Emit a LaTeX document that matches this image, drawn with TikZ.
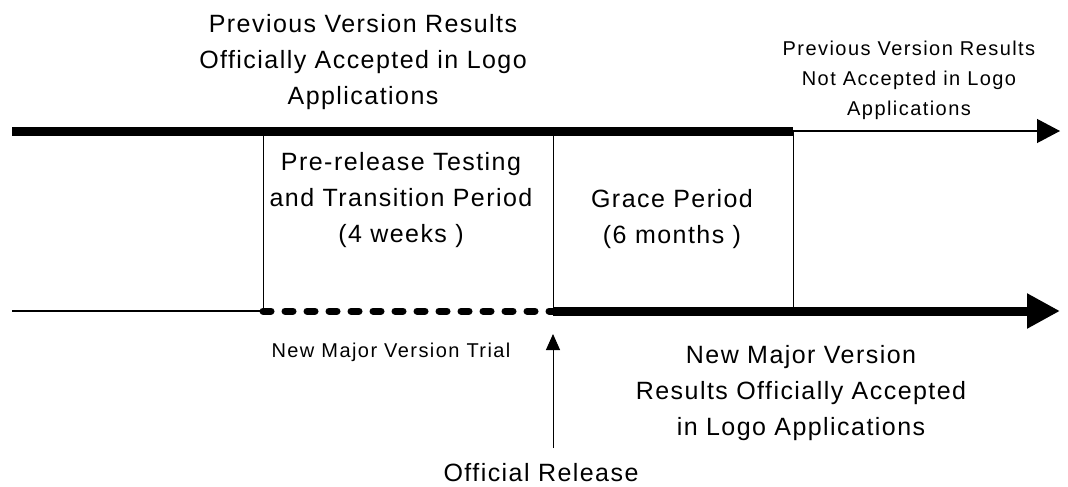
\documentclass[tikz,border=0pt]{standalone}
\usepackage{fontspec}
\setmainfont{Liberation Sans}
\usetikzlibrary{arrows.meta}

\tikzset{
  bigtext/.style={font=\fontsize{25}{36}\selectfont\addfontfeature{LetterSpace=5.8}, align=center, inner sep=0pt, anchor=base},
  smalltext/.style={font=\fontsize{20}{30}\selectfont\addfontfeature{LetterSpace=7.2}, align=center, inner sep=0pt, anchor=base},
  heavyline/.style={line width=9pt},
  hairline/.style={line width=1.2pt},
  trialline/.style={line width=7pt, line cap=round, dash pattern=on 8pt off 14pt},
}

\begin{document}
\begin{tikzpicture}[x=1pt,y=1pt,yscale=-1,xscale=1]
    \useasboundingbox (0,0) rectangle (1068,487);

    % Time line points
    \coordinate (oldStart) at (12,131);
    \coordinate (trialTop) at (263,131);
    \coordinate (releaseTop) at (553,131);
    \coordinate (graceEnd) at (793,131);
    \coordinate (oldEnd) at (1060,131);
    \coordinate (newStart) at (12,311);
    \coordinate (trialStart) at (263,311);
    \coordinate (release) at (553,311);
    \coordinate (graceBottom) at (793,311);
    \coordinate (newEnd) at (1060,311);
    \coordinate (releaseFoot) at (553,448);
    \coordinate (releaseTip) at (553,334);

    %Straight Lines: old version accepted
    \draw [heavyline]  (oldStart) -- (graceEnd) ;
    %Straight Lines: old version not accepted
    \draw [hairline, -{Triangle[length=23pt,width=24pt]}]  (graceEnd) -- (oldEnd) ;
    %Straight Lines: before trial
    \draw [hairline]  (newStart) -- (trialStart) ;
    %Straight Lines: trial
    \draw [trialline]  (trialStart) -- (release) ;
    %Straight Lines: new version accepted
    \draw [heavyline, -{Triangle[length=33pt,width=33pt]}]  (release) -- (newEnd) ;
    %Straight Lines: dividers
    \draw [line width=1pt]  (trialTop) -- (trialStart) ;
    \draw [line width=1pt]  (releaseTop) -- (release) ;
    \draw [line width=1pt]  (graceEnd) -- (graceBottom) ;
    %Straight Lines: official release
    \draw [line width=1pt, -{Triangle[length=16pt,width=14pt]}]  (releaseFoot) -- (releaseTip) ;

    % Text Node (base = last line)
    \node [bigtext] (oldAccepted) at (363,104) {Previous Version Results\\Officially Accepted in Logo\\Applications};
    % Text Node
    \node [smalltext] (oldRejected) at (909,115) {Previous Version Results\\Not Accepted in Logo\\Applications};
    % Text Node
    \node [bigtext] (transition) at (401,242) {Pre-release Testing\\and Transition Period\\(4 weeks )};
    % Text Node
    \node [bigtext] (grace) at (672,243) {Grace Period\\(6 months )};
    % Text Node
    \node [smalltext] (trial) at (391,357) {New Major Version Trial};
    % Text Node
    \node [bigtext] (newAccepted) at (801,435) {New Major Version\\Results Officially Accepted\\in Logo Applications};
    % Text Node
    \node [bigtext] (officialRelease) at (541,481) {Official Release};

\end{tikzpicture}
\end{document}
